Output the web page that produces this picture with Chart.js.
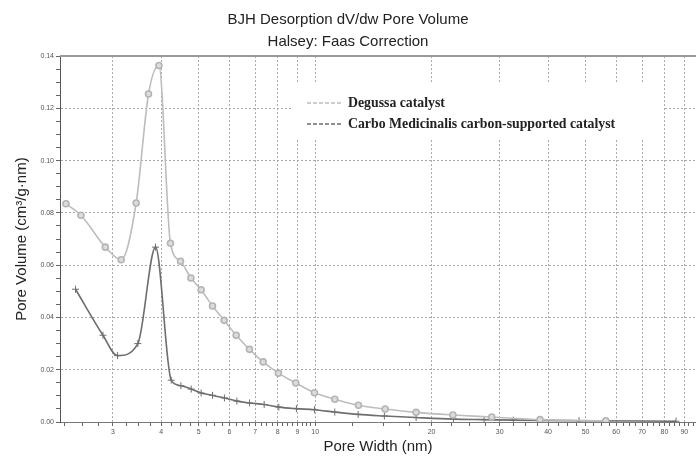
<!DOCTYPE html>
<html>
<head>
<meta charset="utf-8">
<script src="https://cdn.jsdelivr.net/npm/chart.js@4.4.0/dist/chart.umd.min.js"></script>
<style>
  body { margin: 0; background: #fff; }
  #wrap { width: 696px; height: 462px; }
</style>
</head>
<body>
<div id="wrap"><canvas id="grafico" width="696" height="462"></canvas></div>
<script>
// datos (ancho de poro en nm, volumen en cm3/g.nm)
const anchoDegussa = [2.269, 2.481, 2.868, 3.152, 3.446, 3.709, 3.946, 4.227, 4.487, 4.773, 5.074, 5.429, 5.818, 6.25, 6.764, 7.339, 8.036, 8.914, 9.959, 11.24, 12.94, 15.17, 18.24, 22.7, 28.61, 38.14, 56.39]
const volDegussa = [0.0835, 0.0791, 0.0669, 0.0621, 0.0838, 0.1255, 0.1364, 0.0684, 0.0615, 0.0551, 0.0506, 0.0444, 0.0389, 0.0332, 0.0278, 0.023, 0.0187, 0.0149, 0.0112, 0.0087, 0.0064, 0.005, 0.0037, 0.0027, 0.0019, 0.0009, 0.0005]

const anchoCarbo = [2.402, 2.828, 3.083, 3.481, 3.868, 4.245, 4.498, 4.782, 5.074, 5.429, 5.828, 6.276, 6.764, 7.383, 8.056, 8.947, 9.959, 11.24, 12.92, 15.1, 18.24, 22.78, 27.33, 32.53, 48.11, 85.67]
const volCarbo = [0.0508, 0.0332, 0.0254, 0.03, 0.0669, 0.016, 0.0139, 0.0126, 0.0111, 0.0102, 0.0092, 0.008, 0.0073, 0.0067, 0.0057, 0.0051, 0.0047, 0.0038, 0.0029, 0.0023, 0.0017, 0.0011, 0.0009, 0.0007, 0.0005, 0.0003]

const nombres = ['Degussa catalyst', 'Carbo Medicinalis carbon-supported catalyst']
const xMayores = [3, 4, 5, 6, 7, 8, 9, 10, 20, 30, 40, 50, 60, 70, 80, 90]
const yMayores = [0, 0.02, 0.04, 0.06, 0.08, 0.1, 0.12, 0.14]

const esMayorX = v => xMayores.some(m => Math.abs(m - v) < 1e-6)
const esMayorY = v => yMayores.some(m => Math.abs(m - v) < 1e-6)

// ticks menores
const xTicks = []
for (let d of [1, 10]) {
  for (let k = 1; k < 10; k += 0.25) {
    const v = +(k * d).toFixed(4)
    if (v >= 2.2 && v <= 96 && !xTicks.includes(v)) xTicks.push(v)
  }
}
const yTicks = []
for (let i = 0; i <= 28; i++) yTicks.push(+(i * 0.005).toFixed(3))

const juntar = (xs, ys) => xs.map((x, i) => ({ x: x, y: ys[i] }))

const bordeSuperior = {
  id: 'bordeSuperior',
  afterDraw(chart) {
    const { ctx, chartArea } = chart
    ctx.save()
    ctx.strokeStyle = '#9a9a9a'
    ctx.lineWidth = 2
    ctx.beginPath()
    ctx.moveTo(chartArea.left, chartArea.top)
    ctx.lineTo(chartArea.right, chartArea.top)
    ctx.stroke()
    ctx.restore()
  }
}

const leyenda = {
  id: 'leyenda',
  afterDraw(chart) {
    const { ctx } = chart
    ctx.save()
    ctx.fillStyle = '#fff'
    ctx.fillRect(292, 84, 371, 56)
    chart.data.datasets.forEach((ds, i) => {
      const y = 103 + i * 21
      ctx.strokeStyle = ds.borderColor
      ctx.lineWidth = 1.5
      ctx.setLineDash([4, 2])
      ctx.beginPath()
      ctx.moveTo(307, y)
      ctx.lineTo(341, y)
      ctx.stroke()
      ctx.setLineDash([])
      ctx.fillStyle = '#222'
      ctx.font = 'bold 13.8px "Liberation Serif"'
      ctx.textBaseline = 'middle'
      ctx.fillText(ds.label, 348, y)
    })
    ctx.restore()
  }
}

const config = {
  type: 'line',
  data: {
    datasets: [
      {
        label: nombres[0],
        data: juntar(anchoDegussa, volDegussa),
        borderColor: '#bdbdbd',
        backgroundColor: '#dcdcdc',
        pointBorderColor: '#b4b4b4',
        borderWidth: 1.6,
        pointRadius: 3,
        pointStyle: 'circle',
        cubicInterpolationMode: 'monotone'
      },
      {
        label: nombres[1],
        data: juntar(anchoCarbo, volCarbo),
        borderColor: '#6e6e6e',
        backgroundColor: '#6e6e6e',
        pointBorderColor: '#6e6e6e',
        borderWidth: 1.6,
        pointRadius: 3.5,
        pointBorderWidth: 1,
        pointStyle: 'cross',
        cubicInterpolationMode: 'monotone'
      }
    ]
  },
  options: {
    responsive: false,
    animation: false,
    layout: { autoPadding: false, padding: 0 },
    plugins: {
      legend: { display: false },
      tooltip: { enabled: false },
      title: {
        display: true,
        text: ['BJH Desorption dV/dw Pore Volume', 'Halsey: Faas Correction'],
        color: '#222',
        font: { family: 'Liberation Sans', size: 15, weight: 'normal', lineHeight: 1.47 },
        padding: { top: 9, bottom: 3 }
      }
    },
    scales: {
      x: {
        type: 'logarithmic',
        min: 2.19,
        max: 96.5,
        afterBuildTicks: (scale) => {
          scale.ticks = xTicks.map(v => ({ value: v }))
        },
        afterFit: (scale) => {
          scale.height = 40
          scale.paddingLeft = 0
          scale.paddingRight = 0
        },
        ticks: {
          autoSkip: false,
          maxRotation: 0,
          padding: 2,
          color: '#555',
          font: { family: 'Liberation Sans', size: 7 },
          callback: (v) => esMayorX(v) ? String(v) : ''
        },
        grid: {
          color: (ctx) => ctx.tick && esMayorX(ctx.tick.value) ? '#a8a8a8' : 'rgba(0,0,0,0)',
          tickColor: '#666',
          tickLength: 4,
          lineWidth: 1
        },
        border: { display: true, color: '#777', width: 1, dash: [2, 2] },
        title: {
          display: true,
          text: 'Pore Width (nm)',
          color: '#222',
          font: { family: 'Liberation Sans', size: 15 },
          padding: { top: 0, bottom: 6 }
        }
      },
      y: {
        min: 0,
        max: 0.14,
        afterBuildTicks: (scale) => {
          scale.ticks = yTicks.map(v => ({ value: v }))
        },
        afterFit: (scale) => { scale.width = 60 },
        ticks: {
          autoSkip: false,
          padding: 2,
          color: '#555',
          font: { family: 'Liberation Sans', size: 7 },
          callback: (v) => esMayorY(v) ? v.toFixed(2) : ''
        },
        grid: {
          color: (ctx) => ctx.tick && esMayorY(ctx.tick.value) && ctx.tick.value > 0 && ctx.tick.value < 0.14 ? '#a8a8a8' : 'rgba(0,0,0,0)',
          tickColor: '#666',
          tickLength: 4,
          lineWidth: 1
        },
        border: { display: true, color: '#555', width: 1, dash: [2, 2] },
        title: {
          display: true,
          text: 'Pore Volume (cm³/g·nm)',
          color: '#222',
          font: { family: 'Liberation Sans', size: 15 },
          padding: { top: 13, bottom: 0 }
        }
      }
    }
  },
  plugins: [bordeSuperior, leyenda]
}

const myChart = new Chart(document.querySelector('#grafico'), config)
</script>
</body>
</html>
